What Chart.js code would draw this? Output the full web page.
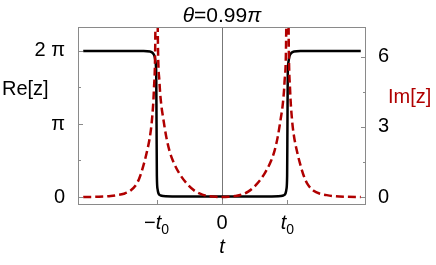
<!DOCTYPE html>
<html>
<head>
<meta charset="utf-8">
<script src="https://cdn.jsdelivr.net/npm/chart.js@4.4.1/dist/chart.umd.min.js"></script>
<style>
  body { margin: 0; background: #fff; }
  canvas { display: block; }
</style>
</head>
<body>
<canvas id="theta_chart" width="436" height="265"></canvas>
<script>
// t in units of t0
const tRe = [-2.12, -1.2, -1.1, -1.06, -1.03, -1.015, -1.005, -1.0, -0.995, -0.985, -0.97, -0.94, -0.9, -0.7, 0,
             0.7, 0.9, 0.94, 0.97, 0.985, 0.995, 1.0, 1.005, 1.015, 1.03, 1.06, 1.1, 1.2, 2.12];
const reVals = [6.283, 6.28, 6.26, 6.2, 6.05, 5.8, 5.3, 3.14, 0.9, 0.35, 0.15, 0.07, 0.04, 0.02, 0.02,
                0.02, 0.04, 0.07, 0.15, 0.35, 0.9, 3.14, 5.3, 5.8, 6.05, 6.2, 6.26, 6.28, 6.283];

const tIm = [-2.12, -1.9, -1.7, -1.6, -1.5, -1.4, -1.3, -1.25, -1.2, -1.15, -1.1, -1.07, -1.04, -1.02, -1.0,
             -0.98, -0.955, -0.93, -0.9, -0.85, -0.8, -0.75, -0.65, -0.52, -0.4, -0.3, -0.2, -0.1, 0,
             0.1, 0.2, 0.3, 0.4, 0.52, 0.65, 0.75, 0.8, 0.85, 0.9, 0.93, 0.955, 0.98,
             1.0, 1.02, 1.04, 1.07, 1.1, 1.15, 1.2, 1.25, 1.3, 1.4, 1.5, 1.6, 1.7, 1.9, 2.12];
const imVals = [0, 0.01, 0.04, 0.08, 0.14, 0.27, 0.58, 0.9, 1.35, 1.9, 2.6, 3.3, 4.6, 6.5, 14,
                6.8, 4.9, 4.0, 3.4, 2.55, 1.95, 1.55, 1.0, 0.52, 0.23, 0.1, 0.04, 0.01, 0,
                0.01, 0.04, 0.1, 0.23, 0.52, 1.0, 1.55, 1.95, 2.55, 3.4, 4.0, 4.9, 6.8,
                14, 6.5, 4.6, 3.3, 2.6, 1.9, 1.35, 0.9, 0.58, 0.27, 0.14, 0.08, 0.04, 0.01, 0];

const tTicks = [-1, 0, 1];
const tTickLabels = ['\u2212t\u2080', '0', 't\u2080'];
const reTicks = [0, Math.PI, 2 * Math.PI];
const reTickLabels = ['0', '\u03c0', '2 \u03c0'];
const reMinor = [Math.PI / 2, 3 * Math.PI / 2];
const imTicks = [0, 3, 6];
const imTickLabels = ['0', '3', '6'];
const imMinor = [1.5, 4.5];

const FONT = '"Liberation Sans", Arial, sans-serif';
const RED = '#b00000';

// draws text in pieces: t italic, subscript 0 small and lowered
function drawPieces(ctx, label, cx, baseline) {
    const pieces = [];
    for (const ch of label) {
        if (ch === 't') pieces.push([ch, 'italic 20px ' + FONT, 0]);
        else if (ch === '\u2080') pieces.push(['0', '14px ' + FONT, 5]);
        else pieces.push([ch, '20px ' + FONT, 0]);
    }
    let w = 0;
    pieces.forEach(p => { ctx.font = p[1]; w += ctx.measureText(p[0]).width; });
    let x = cx - w / 2;
    pieces.forEach(p => {
        ctx.font = p[1];
        ctx.fillText(p[0], x, baseline + p[2]);
        x += ctx.measureText(p[0]).width;
    });
}

const frameAndLabels = {
    id: 'frameAndLabels',
    afterDatasetsDraw(chart) {
        const { ctx, chartArea: a, scales } = chart;
        ctx.save();
        // frame
        ctx.strokeStyle = '#8a8a8a';
        ctx.lineWidth = 1;
        ctx.strokeRect(a.left + 0.5, a.top + 0.5, a.right - a.left - 1, a.bottom - a.top - 1);

        // inward ticks
        ctx.beginPath();
        tTicks.forEach(v => {
            const px = Math.round(scales.x.getPixelForValue(v)) + 0.5;
            ctx.moveTo(px, a.bottom); ctx.lineTo(px, a.bottom - 5);
        });
        reTicks.forEach(v => {
            const py = Math.round(scales.yRe.getPixelForValue(v)) + 0.5;
            ctx.moveTo(a.left, py); ctx.lineTo(a.left + 5, py);
        });
        reMinor.forEach(v => {
            const py = Math.round(scales.yRe.getPixelForValue(v)) + 0.5;
            ctx.moveTo(a.left, py); ctx.lineTo(a.left + 3, py);
        });
        imTicks.forEach(v => {
            const py = Math.round(scales.yIm.getPixelForValue(v)) + 0.5;
            ctx.moveTo(a.right, py); ctx.lineTo(a.right - 5, py);
        });
        imMinor.forEach(v => {
            const py = Math.round(scales.yIm.getPixelForValue(v)) + 0.5;
            ctx.moveTo(a.right, py); ctx.lineTo(a.right - 3, py);
        });
        ctx.stroke();

        ctx.fillStyle = '#000';
        ctx.textBaseline = 'alphabetic';
        ctx.textAlign = 'left';

        // x tick labels
        tTicks.forEach((v, i) => drawPieces(ctx, tTickLabels[i], scales.x.getPixelForValue(v), 229));

        // title  θ=0.99π
        const parts = [['\u03b8', 'italic'], ['=0.99', 'normal'], ['\u03c0', 'italic']];
        let total = 0;
        parts.forEach(p => { ctx.font = p[1] + ' 21px ' + FONT; total += ctx.measureText(p[0]).width; });
        let x = (a.left + a.right) / 2 - total / 2;
        parts.forEach(p => {
            ctx.font = p[1] + ' 21px ' + FONT;
            ctx.fillText(p[0], x, 22);
            x += ctx.measureText(p[0]).width;
        });

        // axis labels
        ctx.font = '20px ' + FONT;
        ctx.fillText('Re[z]', 2, 95);
        ctx.fillStyle = RED;
        ctx.fillText('Im[z]', 388, 103);
        ctx.fillStyle = '#000';
        ctx.font = 'italic 20px ' + FONT;
        ctx.textAlign = 'center';
        ctx.fillText('t', scales.x.getPixelForValue(0), 253);
        ctx.restore();
    }
};

new Chart(document.getElementById('theta_chart'), {
    type: 'line',
    data: {
        datasets: [{
            label: 'Im[z]',
            yAxisID: 'yIm',
            data: tIm.map((t, i) => ({ x: t, y: imVals[i] })),
            borderColor: RED,
            borderWidth: 2.5,
            borderDash: [8, 4],
            pointRadius: 0,
            cubicInterpolationMode: 'monotone',
            fill: false,
            clip: 0
        }, {
            label: 'Re[z]',
            yAxisID: 'yRe',
            data: tRe.map((t, i) => ({ x: t, y: reVals[i] })),
            borderColor: '#000',
            borderWidth: 2.5,
            pointRadius: 0,
            cubicInterpolationMode: 'monotone',
            fill: false,
            clip: 0
        }]
    },
    options: {
        responsive: false,
        animation: false,
        layout: { padding: { top: 27, left: 0, right: 0, bottom: 0 } },
        plugins: { legend: { display: false }, tooltip: { enabled: false }, title: { display: false } },
        scales: {
            x: {
                type: 'linear',
                min: -2.2,
                max: 2.2,
                afterBuildTicks: s => { s.ticks = tTicks.map(v => ({ value: v })); },
                afterFit: s => { s.height = 60; },
                border: { display: false },
                grid: {
                    color: c => (c.tick && c.tick.value === 0) ? '#777' : 'rgba(0,0,0,0)',
                    lineWidth: 1,
                    drawTicks: false
                },
                ticks: { display: false }
            },
            yRe: {
                type: 'linear',
                position: 'left',
                min: -0.344,
                max: 7.315,
                afterBuildTicks: s => { s.ticks = reTicks.map(v => ({ value: v })); },
                afterFit: s => { s.width = 78; },
                border: { display: false },
                grid: { display: false },
                ticks: {
                    padding: 5,
                    color: '#000',
                    font: { family: FONT, size: 20 },
                    callback: (v, i) => reTickLabels[i]
                }
            },
            yIm: {
                type: 'linear',
                position: 'right',
                min: -0.342,
                max: 7.27,
                afterBuildTicks: s => { s.ticks = imTicks.map(v => ({ value: v })); },
                afterFit: s => { s.width = 70; },
                border: { display: false },
                grid: { display: false },
                ticks: {
                    padding: 4,
                    color: '#000',
                    font: { family: FONT, size: 20 },
                    callback: (v, i) => imTickLabels[i]
                }
            }
        }
    },
    plugins: [frameAndLabels]
});
</script>
</body>
</html>
